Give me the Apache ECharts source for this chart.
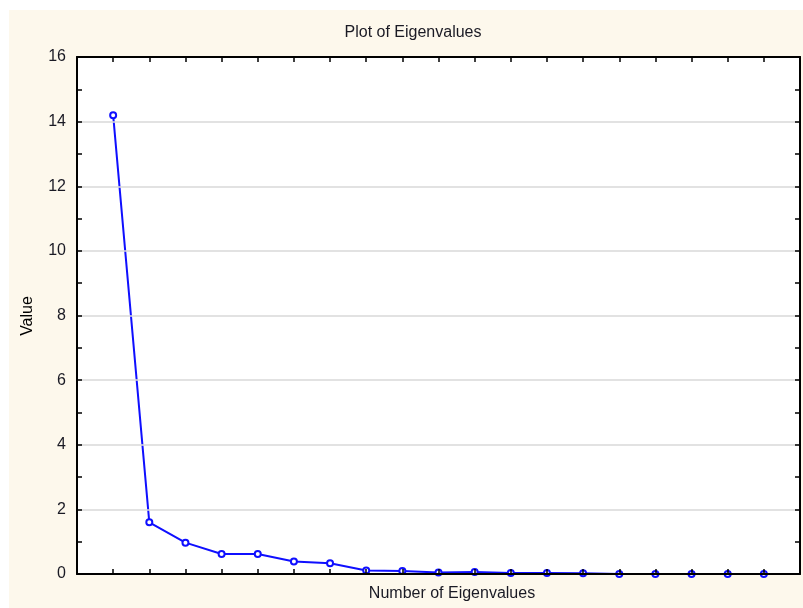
<!DOCTYPE html>
<html>
<head>
<meta charset="utf-8">
<script src="https://cdn.jsdelivr.net/npm/echarts@6/dist/echarts.min.js"></script>
<style>
  html, body { margin: 0; padding: 0; background: #ffffff; }
  #chart { width: 803px; height: 608px; }
</style>
</head>
<body>
<div id="chart"></div>
<script>
// Eigenvalue index (1..19) and the eigenvalue for each
const eigenIndex = [1, 2, 3, 4, 5, 6, 7, 8, 9, 10, 11, 12, 13, 14, 15, 16, 17, 18, 19];
const eigenValues = [14.2, 1.6, 0.97, 0.62, 0.62, 0.39, 0.33, 0.11, 0.09, 0.05, 0.06, 0.03, 0.03, 0.02, 0, 0, 0, 0, 0];
const yTicks = [0, 2, 4, 6, 8, 10, 12, 14, 16];

const chartTitle = 'Plot of Eigenvalues';
const xTitle = 'Number of Eigenvalues';
const yTitle = 'Value';

const font = "'Liberation Sans', Arial, sans-serif";
const textColor = '#1a1a24';

const chart = echarts.init(document.getElementById('chart'), null, { renderer: 'canvas' });

// shared look of the four sides of the plot frame
function frameAxis(extra) {
  return Object.assign({
    axisLine: { show: true, onZero: false, lineStyle: { color: '#000', width: 2 } },
    axisTick: { show: true, inside: true, length: 5, lineStyle: { color: '#000', width: 1.5 } },
    z: 5
  }, extra);
}

chart.setOption({
  backgroundColor: '#ffffff',
  animation: false,
  graphic: [
    { type: 'rect', z: -10, shape: { x: 9, y: 10, width: 794, height: 598 }, style: { fill: '#fdf8ec' } },
    { type: 'text', x: 413, y: 33, z: 10,
      style: { text: chartTitle, font: '16px ' + font, fill: textColor, align: 'center', verticalAlign: 'middle' } },
    { type: 'text', x: 452, y: 594, z: 10,
      style: { text: xTitle, font: '16px ' + font, fill: textColor, align: 'center', verticalAlign: 'middle' } },
    { type: 'text', x: 28, y: 316, rotation: Math.PI / 2, z: 10,
      style: { text: yTitle, font: '16px ' + font, fill: '#000', align: 'center', verticalAlign: 'middle' } }
  ],
  grid: { left: 77, right: 3, top: 57, bottom: 34, show: true, backgroundColor: '#ffffff', borderWidth: 0 },
  xAxis: [
    frameAxis({ type: 'value', position: 'bottom', min: 0, max: 20, interval: 1,
      axisLabel: { show: false }, splitLine: { show: false } }),
    frameAxis({ type: 'value', position: 'top', min: 0, max: 20, interval: 1,
      axisLabel: { show: false }, splitLine: { show: false } })
  ],
  yAxis: [
    frameAxis({ type: 'value', position: 'left', min: yTicks[0], max: yTicks[yTicks.length - 1], interval: 2,
      axisLabel: { show: true, margin: 11, fontSize: 16, fontFamily: font, color: textColor },
      splitLine: { show: true, lineStyle: { color: '#d9d9d9', width: 1.5 } },
      minorTick: { show: true, splitNumber: 2, length: 5, lineStyle: { color: '#000', width: 1.5 } } }),
    frameAxis({ type: 'value', position: 'right', min: yTicks[0], max: yTicks[yTicks.length - 1], interval: 2,
      axisLabel: { show: false }, splitLine: { show: false },
      minorTick: { show: true, splitNumber: 2, length: 5, lineStyle: { color: '#000', width: 1.5 } } })
  ],
  series: [{
    type: 'line',
    xAxisIndex: 0,
    yAxisIndex: 0,
    data: eigenIndex.map((n, i) => [n, eigenValues[i]]),
    symbol: 'emptyCircle',
    symbolSize: 6,
    clip: true,
    z: 3,
    lineStyle: { color: '#0f0fff', width: 2 },
    itemStyle: { color: '#0f0fff', borderColor: '#0f0fff', borderWidth: 1.6 }
  }]
});
</script>
</body>
</html>
